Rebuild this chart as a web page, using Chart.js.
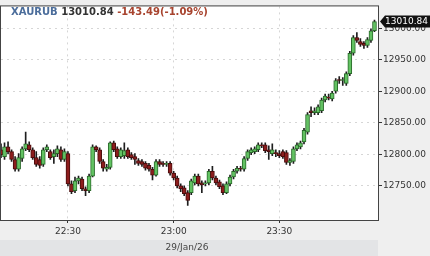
<!DOCTYPE html>
<html>
<head>
<meta charset="utf-8">
<script src="https://cdn.jsdelivr.net/npm/chart.js@4"></script>
<style>
html, body { margin: 0; padding: 0; background: #efefef; }
#wrap { width: 430px; height: 256px; }
</style>
</head>
<body>
<div id="wrap"><canvas id="chart" width="430" height="256"></canvas></div>
<script>
// one-minute candles, 22:11 .. 23:57 (23:58 is an empty slot at the right edge)
const times = [
  '22:11','22:12','22:13','22:14','22:15','22:16','22:17','22:18','22:19','22:20',
  '22:21','22:22','22:23','22:24','22:25','22:26','22:27','22:28','22:29','22:30',
  '22:31','22:32','22:33','22:34','22:35','22:36','22:37','22:38','22:39','22:40',
  '22:41','22:42','22:43','22:44','22:45','22:46','22:47','22:48','22:49','22:50',
  '22:51','22:52','22:53','22:54','22:55','22:56','22:57','22:58','22:59','23:00',
  '23:01','23:02','23:03','23:04','23:05','23:06','23:07','23:08','23:09','23:10',
  '23:11','23:12','23:13','23:14','23:15','23:16','23:17','23:18','23:19','23:20',
  '23:21','23:22','23:23','23:24','23:25','23:26','23:27','23:28','23:29','23:30',
  '23:31','23:32','23:33','23:34','23:35','23:36','23:37','23:38','23:39','23:40',
  '23:41','23:42','23:43','23:44','23:45','23:46','23:47','23:48','23:49','23:50',
  '23:51','23:52','23:53','23:54','23:55','23:56','23:57','23:58'
];

const opens = [
  12807.3,12796.5,12811.9,12804.2,12791.8,12776.3,12793.4,12808.8,12815.0,12807.3,
  12794.9,12791.8,12784.1,12807.3,12804.2,12796.5,12801.1,12807.3,12791.8,12801.1,
  12753.1,12742.3,12757.8,12760.9,12745.4,12742.3,12765.5,12811.9,12807.3,12788.7,
  12776.3,12779.4,12818.1,12808.8,12796.5,12798.0,12807.3,12799.6,12796.5,12790.3,
  12788.7,12785.6,12782.5,12776.3,12767.0,12788.7,12785.6,12784.1,12785.6,12770.1,
  12762.4,12750.0,12746.9,12739.2,12739.2,12754.7,12765.5,12754.7,12753.1,12754.7,
  12773.2,12762.4,12756.2,12750.0,12739.2,12753.1,12764.0,12773.2,12777.9,12776.3,
  12793.4,12802.7,12804.2,12807.3,12815.0,12815.0,12807.3,12801.1,12802.7,12801.1,
  12804.2,12802.7,12787.2,12788.7,12808.8,12811.9,12819.7,12835.2,12869.2,12866.1,
  12866.1,12869.2,12886.2,12890.9,12887.8,12900.2,12918.8,12917.2,12912.6,12928.0,
  12960.5,12985.3,12979.1,12976.0,12972.9,12980.7,12996.1
];
const highs = [
  12816.6,12818.1,12819.7,12807.3,12796.5,12801.1,12811.9,12835.2,12819.7,12810.4,
  12804.2,12796.5,12810.4,12815.0,12807.3,12807.3,12813.5,12811.9,12808.8,12804.2,
  12757.8,12764.0,12765.5,12764.0,12748.5,12768.6,12815.0,12813.5,12810.4,12791.8,
  12784.1,12819.7,12821.2,12811.9,12810.4,12818.1,12810.4,12802.7,12801.1,12793.4,
  12791.8,12788.7,12785.6,12779.4,12791.8,12791.8,12788.7,12788.7,12788.7,12773.2,
  12765.5,12753.1,12750.0,12742.3,12760.9,12768.6,12768.6,12757.8,12757.8,12776.3,
  12781.0,12765.5,12759.3,12753.1,12756.2,12767.0,12776.3,12781.0,12781.0,12796.5,
  12807.3,12810.4,12811.9,12818.1,12818.1,12818.1,12813.5,12816.6,12807.3,12805.8,
  12807.3,12805.8,12793.4,12811.9,12818.1,12821.2,12841.4,12866.1,12875.4,12873.9,
  12878.5,12889.3,12895.5,12895.5,12900.2,12920.3,12923.4,12921.8,12931.1,12963.6,
  12988.4,12993.1,12983.8,12979.1,12985.3,12999.2,13013.2
];
const lows = [
  12794.9,12791.8,12801.1,12788.7,12773.2,12773.2,12788.7,12805.8,12804.2,12791.8,
  12781.0,12777.9,12781.0,12804.2,12791.8,12785.6,12796.5,12788.7,12788.7,12750.0,
  12737.6,12739.2,12753.1,12742.3,12734.5,12739.2,12764.0,12804.2,12785.6,12773.2,
  12773.2,12776.3,12804.2,12793.4,12793.4,12793.4,12793.4,12791.8,12784.1,12782.5,
  12781.0,12774.8,12773.2,12759.3,12765.5,12781.0,12781.0,12781.0,12767.0,12759.3,
  12746.9,12740.7,12734.5,12719.1,12736.1,12751.6,12750.0,12739.2,12750.0,12751.6,
  12759.3,12751.6,12745.4,12736.1,12737.6,12750.0,12760.9,12770.1,12773.2,12773.2,
  12790.3,12799.6,12801.1,12804.2,12810.4,12802.7,12791.8,12798.0,12796.5,12794.9,
  12793.4,12784.1,12782.5,12785.6,12805.8,12808.8,12816.6,12832.1,12859.9,12863.0,
  12863.0,12866.1,12883.2,12886.2,12884.7,12897.1,12912.6,12909.5,12909.5,12924.9,
  12957.5,12977.6,12971.4,12968.3,12969.8,12977.6,12994.6
];
const closes = [
  12799.6,12811.9,12804.2,12791.8,12776.3,12794.9,12808.8,12816.6,12807.3,12794.9,
  12784.1,12782.5,12807.3,12811.9,12794.9,12801.1,12808.8,12791.8,12804.2,12753.1,
  12740.7,12757.8,12762.4,12745.4,12742.3,12765.5,12811.9,12807.3,12788.7,12777.9,
  12779.4,12818.1,12807.3,12796.5,12807.3,12805.8,12796.5,12794.9,12791.8,12785.6,
  12784.1,12777.9,12776.3,12767.0,12788.7,12784.1,12784.1,12785.6,12770.1,12762.4,
  12750.0,12745.4,12737.6,12726.8,12757.8,12765.5,12753.1,12751.6,12754.7,12773.2,
  12762.4,12754.7,12748.5,12739.2,12753.1,12764.0,12773.2,12777.9,12776.3,12793.4,
  12804.2,12807.3,12808.8,12815.0,12813.5,12805.8,12804.2,12807.3,12801.1,12798.0,
  12796.5,12787.2,12790.3,12808.8,12815.0,12818.1,12838.3,12863.0,12866.1,12869.2,
  12875.4,12886.2,12892.4,12889.3,12897.1,12917.2,12917.2,12918.8,12928.0,12960.5,
  12985.3,12980.7,12974.5,12972.9,12982.2,12996.1,13010.84
];

const xTickLabels = ['22:30', '23:00', '23:30'];
const yTicks = [12750, 12800, 12850, 12900, 12950, 13000];
const yMin = 12695.8, yMax = 13034.8;

const symbol = 'XAURUB';
const lastPrice = 13010.84;
const change = '-143.49(-1.09%)';
const dateLabel = '29/Jan/26';

const up = closes.map((c, i) => c >= opens[i]);
const bodyFill = up.map(u => u ? '#62c262' : '#8c1d1d');
const bodyLine = up.map(u => u ? '#2a6a2a' : '#4a0c0c');

const frame = {
  id: 'frame',
  beforeDraw(chart) {
    const { ctx, chartArea: a } = chart;
    ctx.save();
    ctx.fillStyle = '#e3e4e6';
    ctx.fillRect(0, 240, a.right, 16);
    ctx.fillStyle = '#ffffff';
    ctx.fillRect(a.left, a.top, a.right - a.left, a.bottom - a.top);
    ctx.restore();
  },
  afterDraw(chart) {
    const { ctx, chartArea: a } = chart;
    ctx.save();
    // plot border
    ctx.strokeStyle = '#444';
    ctx.lineWidth = 1;
    ctx.strokeRect(a.left - 0.5, a.top - 0.5, a.right - a.left + 1, a.bottom - a.top + 1);

    // header
    ctx.font = 'bold 10px "DejaVu Sans"';
    ctx.textBaseline = 'middle';
    let x = 11;
    const parts = [[symbol, '#4b6d9b'], [' ' + lastPrice.toFixed(2) + ' ', '#333'], [change, '#a8442f']];
    parts.forEach(([t, c]) => {
      ctx.fillStyle = c;
      ctx.fillText(t, x, 12);
      x += ctx.measureText(t).width;
    });

    // last price tag
    const y = chart.scales.y.getPixelForValue(lastPrice);
    ctx.fillStyle = '#111';
    ctx.beginPath();
    ctx.moveTo(380, y);
    ctx.lineTo(385, y - 6);
    ctx.lineTo(430, y - 6);
    ctx.lineTo(430, y + 6);
    ctx.lineTo(385, y + 6);
    ctx.closePath();
    ctx.fill();
    ctx.fillStyle = '#fff';
    ctx.font = '9px "DejaVu Sans"';
    ctx.fillText(lastPrice.toFixed(2), 385, y + 0.5);

    // date band text
    ctx.fillStyle = '#444';
    ctx.textAlign = 'center';
    ctx.fillText(dateLabel, 187, 248);
    ctx.restore();
  }
};

new Chart(document.getElementById('chart'), {
  type: 'bar',
  data: {
    labels: times,
    datasets: [
      {
        label: 'body',
        data: opens.map((o, i) => [o, closes[i]]),
        backgroundColor: bodyFill,
        borderColor: bodyLine,
        borderWidth: 1,
        borderSkipped: false,
        barThickness: 4,
        minBarLength: 1,
        grouped: false,
        order: 0
      },
      {
        label: 'wick',
        data: lows.map((l, i) => [l, highs[i]]),
        backgroundColor: '#1e1e1e',
        barThickness: 1,
        grouped: false,
        order: 1
      }
    ]
  },
  options: {
    responsive: false,
    animation: false,
    layout: { padding: { left: 1, top: 1, right: 0, bottom: 0 } },
    plugins: { legend: { display: false }, tooltip: { enabled: false } },
    scales: {
      x: {
        offset: false,
        grid: { color: '#d6d6d6', offset: false, tickColor: '#333', tickLength: 3, tickBorderDash: [] },
        border: { color: '#333', dash: [2, 4] },
        ticks: { autoSkip: false, maxRotation: 0, padding: 3, color: '#333', font: { family: 'DejaVu Sans', size: 9 } },
        afterBuildTicks: s => { s.ticks = xTickLabels.map(t => ({ value: times.indexOf(t) })); },
        afterFit: s => { s.height = 36; }
      },
      y: {
        position: 'right',
        min: yMin,
        max: yMax,
        grid: { color: '#d6d6d6', tickColor: '#333', tickLength: 4, tickBorderDash: [] },
        border: { color: '#333', dash: [2, 4] },
        ticks: { padding: 1, color: '#333', font: { family: 'DejaVu Sans', size: 9 }, callback: v => v.toFixed(2) },
        afterBuildTicks: s => { s.ticks = yTicks.map(v => ({ value: v })); },
        afterFit: s => { s.height; s.width = 52; }
      }
    }
  },
  plugins: [frame]
});
</script>
</body>
</html>
